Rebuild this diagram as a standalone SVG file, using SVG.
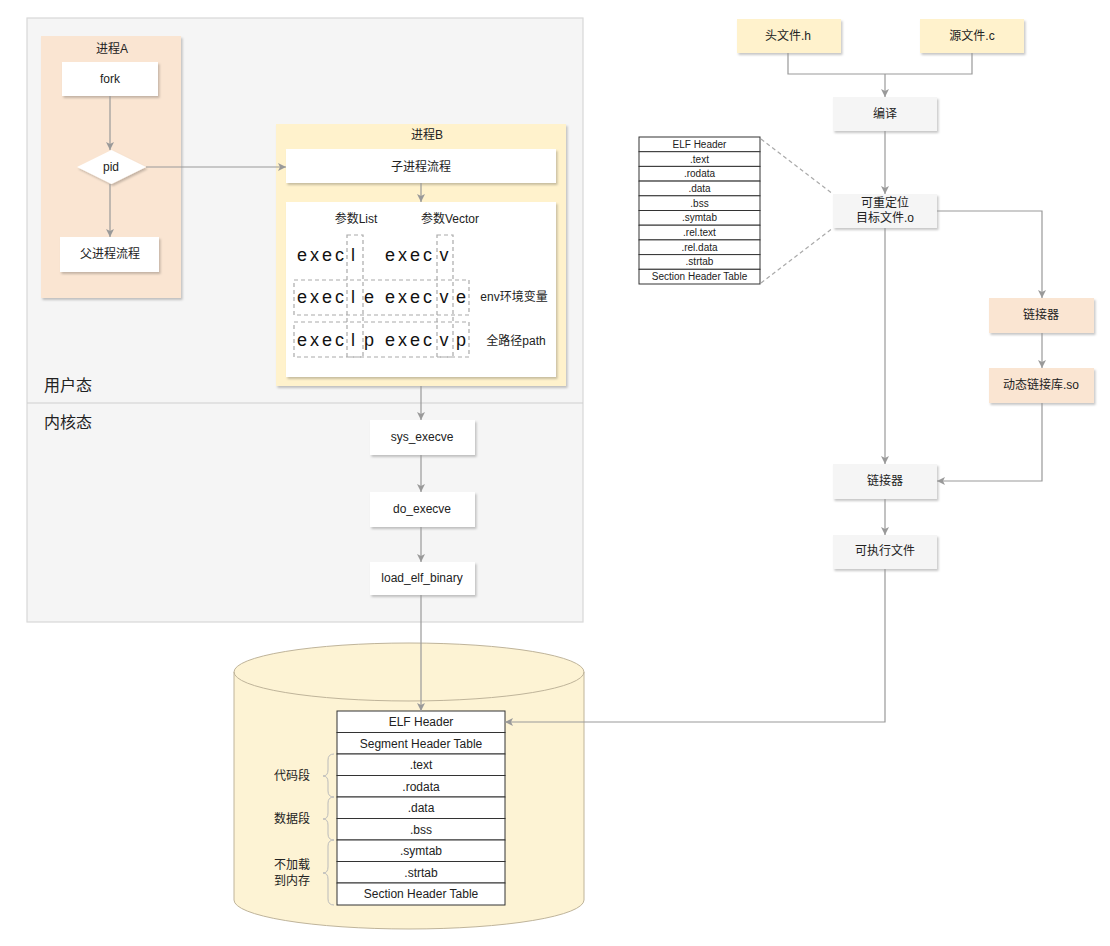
<svg xmlns="http://www.w3.org/2000/svg" width="1110" height="946" viewBox="0 0 1110 946">
<style>
text{font-family:"Liberation Sans","Noto Sans CJK SC",sans-serif;fill:#222;font-size:12px;text-anchor:middle;dominant-baseline:central}
.box{stroke:none;filter:url(#sh)}
.w{fill:#fff}
.g{fill:#f5f5f5}
.y{fill:#fff2cc}
.o{fill:#fae5d2}
.c{fill:none;stroke:#999;stroke-width:1.2}
.ca{fill:none;stroke:#999;stroke-width:1.2;marker-end:url(#ah)}
.dash{fill:none;stroke:#aaa;stroke-width:1.2;stroke-dasharray:4 3}
.tb{fill:#fff;stroke:#333;stroke-width:1}
.big{font-size:16px}
.ex{font-size:18px;text-anchor:start;fill:#111}
.exm{font-size:18px;fill:#111}
.sm{font-size:10px}
.brace{fill:none;stroke:#bbb;stroke-width:1}
</style>
<defs>
<filter id="sh" x="-10%" y="-10%" width="130%" height="140%">
<feDropShadow dx="1.5" dy="2" stdDeviation="0.8" flood-color="#000" flood-opacity="0.22"/>
</filter>
<marker id="ah" markerWidth="9" markerHeight="8" refX="8" refY="4" orient="auto" markerUnits="userSpaceOnUse">
<path d="M0,0 L8,4 L0,8 L2,4 z" fill="#999"/>
</marker>
</defs>

<g id="panel">
<rect x="27" y="18" width="556" height="604" fill="#f5f5f5" stroke="#d8d8d8" stroke-width="1.2"/>
<line x1="27" y1="403" x2="583" y2="403" stroke="#d0d0d0" stroke-width="1.2"/>
<text class="big" x="68" y="385">用户态</text>
<text class="big" x="68" y="422">内核态</text>
</g>

<g id="procA">
<rect class="box o" x="41" y="36" width="140" height="262"/>
<text x="112" y="49">进程A</text>
</g>
<g id="fork"><rect class="box w" x="62" y="62" width="96" height="34"/><text x="110" y="79">fork</text></g>
<g id="pid"><path d="M77,167 L111.5,150 L146,167 L111.5,184 Z" fill="#fff" filter="url(#sh)"/><text x="111" y="167">pid</text></g>
<g id="parent"><rect class="box w" x="60" y="237" width="99" height="35"/><text x="110" y="254">父进程流程</text></g>

<g id="procB">
<rect class="box y" x="276" y="124" width="290" height="262" stroke="#eadfb0" stroke-width="1"/>
<text x="427" y="135">进程B</text>
</g>
<g id="child"><rect class="box w" x="286" y="149" width="270" height="34"/><text x="421" y="167">子进程流程</text></g>
<g id="execbox">
<rect class="box w" x="286" y="202" width="270" height="175"/>
<text x="356" y="219">参数List</text>
<text x="450" y="219">参数Vector</text>
<rect class="dash" x="347" y="235" width="16" height="122"/>
<rect class="dash" x="437" y="235" width="16" height="122"/>
<rect class="dash" x="294" y="280" width="175" height="35"/>
<rect class="dash" x="294" y="322" width="175" height="35"/>
<text class="ex" x="297" y="255" textLength="47" lengthAdjust="spacing">exec</text>
<text class="exm" x="353" y="255">l</text>
<text class="ex" x="385" y="255" textLength="47" lengthAdjust="spacing">exec</text>
<text class="exm" x="444" y="255">v</text>
<text class="ex" x="297" y="297" textLength="47" lengthAdjust="spacing">exec</text>
<text class="exm" x="353" y="297">l</text>
<text class="exm" x="369" y="297">e</text>
<text class="ex" x="385" y="297" textLength="47" lengthAdjust="spacing">exec</text>
<text class="exm" x="444" y="297">v</text>
<text class="exm" x="461" y="297">e</text>
<text class="ex" x="297" y="340" textLength="47" lengthAdjust="spacing">exec</text>
<text class="exm" x="353" y="340">l</text>
<text class="exm" x="369" y="340">p</text>
<text class="ex" x="385" y="340" textLength="47" lengthAdjust="spacing">exec</text>
<text class="exm" x="444" y="340">v</text>
<text class="exm" x="461" y="340">p</text>
<text x="514" y="297">env环境变量</text>
<text x="516" y="341">全路径path</text>
</g>

<g id="sys_execve"><rect class="box w" x="370" y="420" width="105" height="35"/><text x="422" y="437">sys_execve</text></g>
<g id="do_execve"><rect class="box w" x="370" y="492" width="105" height="35"/><text x="422" y="509">do_execve</text></g>
<g id="load_elf_binary"><rect class="box w" x="370" y="562" width="105" height="33"/><text x="422" y="578">load_elf_binary</text></g>

<g id="disk">
<path d="M234,672 A175,29 0 0 1 584,672 V900 A175,29 0 0 1 234,900 Z" fill="#fdf3d4" stroke="#bfb49a" stroke-width="1"/>
<path d="M234,672 A175,29 0 0 0 584,672" fill="none" stroke="#bfb49a" stroke-width="1"/>
<rect class="tb" x="337" y="711" width="168" height="21.5"/>
<rect class="tb" x="337" y="732.5" width="168" height="21.5"/>
<rect class="tb" x="337" y="754" width="168" height="21.5"/>
<rect class="tb" x="337" y="775.5" width="168" height="21.5"/>
<rect class="tb" x="337" y="797" width="168" height="21.5"/>
<rect class="tb" x="337" y="818.5" width="168" height="21.5"/>
<rect class="tb" x="337" y="840" width="168" height="21.5"/>
<rect class="tb" x="337" y="861.5" width="168" height="21.5"/>
<rect class="tb" x="337" y="883" width="168" height="22"/>
<text x="421" y="722">ELF Header</text>
<text x="421" y="743.5">Segment Header Table</text>
<text x="421" y="765">.text</text>
<text x="421" y="786.5">.rodata</text>
<text x="421" y="808">.data</text>
<text x="421" y="829.5">.bss</text>
<text x="421" y="851">.symtab</text>
<text x="421" y="872.5">.strtab</text>
<text x="421" y="894">Section Header Table</text>
<path class="brace" d="M334,754 Q328,754 328,760 V770 Q328,776 323,776 Q328,776 328,782 V791 Q328,797 334,797"/>
<path class="brace" d="M334,797 Q328,797 328,803 V813 Q328,819 323,819 Q328,819 328,825 V834 Q328,840 334,840"/>
<path class="brace" d="M334,840 Q328,840 328,846 V867 Q328,873 323,873 Q328,873 328,879 V899 Q328,905 334,905"/>
<text x="292" y="776">代码段</text>
<text x="292" y="819">数据段</text>
<text x="292" y="865">不加载</text>
<text x="292" y="881">到内存</text>
</g>

<g id="hfile"><rect class="box y" x="737" y="19" width="104" height="34"/><text x="788" y="36">头文件.h</text></g>
<g id="cfile"><rect class="box y" x="920" y="19" width="104" height="34"/><text x="972" y="36">源文件.c</text></g>
<g id="compile"><rect class="box g" x="833" y="97" width="104" height="34"/><text x="885" y="114">编译</text></g>
<g id="objfile"><rect class="box g" x="833" y="194" width="104" height="34"/><text x="885" y="203">可重定位</text><text x="885" y="218">目标文件.o</text></g>
<g id="linker1"><rect class="box o" x="989" y="298" width="105" height="35"/><text x="1041" y="315">链接器</text></g>
<g id="solib"><rect class="box o" x="989" y="368" width="105" height="35"/><text x="1041" y="385">动态链接库.so</text></g>
<g id="linker2"><rect class="box g" x="833" y="464" width="104" height="35"/><text x="885" y="481">链接器</text></g>
<g id="exefile"><rect class="box g" x="833" y="535" width="104" height="34"/><text x="885" y="551">可执行文件</text></g>

<g id="elfsmall">
<rect class="tb" x="639" y="137" width="121" height="14.7"/>
<rect class="tb" x="639" y="151.7" width="121" height="14.7"/>
<rect class="tb" x="639" y="166.4" width="121" height="14.7"/>
<rect class="tb" x="639" y="181.1" width="121" height="14.7"/>
<rect class="tb" x="639" y="195.8" width="121" height="14.7"/>
<rect class="tb" x="639" y="210.5" width="121" height="14.7"/>
<rect class="tb" x="639" y="225.2" width="121" height="14.7"/>
<rect class="tb" x="639" y="239.9" width="121" height="14.7"/>
<rect class="tb" x="639" y="254.6" width="121" height="14.7"/>
<rect class="tb" x="639" y="269.3" width="121" height="14.7"/>
<text class="sm" x="699.5" y="144.5">ELF Header</text>
<text class="sm" x="699.5" y="159">.text</text>
<text class="sm" x="699.5" y="173.7">.rodata</text>
<text class="sm" x="699.5" y="188.4">.data</text>
<text class="sm" x="699.5" y="203.1">.bss</text>
<text class="sm" x="699.5" y="217.8">.symtab</text>
<text class="sm" x="699.5" y="232.5">.rel.text</text>
<text class="sm" x="699.5" y="247.2">.rel.data</text>
<text class="sm" x="699.5" y="261.9">.strtab</text>
<text class="sm" x="699.5" y="276.6">Section Header Table</text>
</g>

<g id="connectors">
<path class="ca" d="M110,96 V150"/>
<path class="ca" d="M110,184 V237"/>
<path class="ca" d="M146,167 H286"/>
<path class="ca" d="M421,183 V202"/>
<path class="ca" d="M421,386 V420"/>
<path class="ca" d="M421,455 V492"/>
<path class="ca" d="M421,527 V562"/>
<path class="ca" d="M421,595 V711"/>
<path class="c" d="M788,53 V74 H972 V53"/>
<path class="ca" d="M885,74 V97"/>
<path class="ca" d="M885,131 V194"/>
<path class="ca" d="M885,228 V464"/>
<path class="ca" d="M937,211 H1042 V298"/>
<path class="ca" d="M1042,333 V368"/>
<path class="ca" d="M1042,403 V481 H937"/>
<path class="ca" d="M885,499 V535"/>
<path class="ca" d="M885,569 V722 H505"/>
<path class="dash" d="M761,139 L833,194"/>
<path class="dash" d="M761,283 L833,228"/>
</g>
</svg>
